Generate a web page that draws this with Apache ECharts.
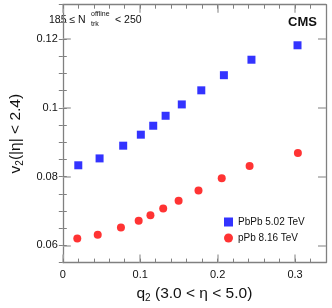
<!DOCTYPE html>
<html><head><meta charset="utf-8">
<script src="https://cdn.jsdelivr.net/npm/echarts@6/dist/echarts.min.js"></script>
<style>html,body{margin:0;padding:0;background:#fff}#c{width:332px;height:308px}</style>
</head><body><div id="c"></div>
<script>
const pbpbQ2 = [0.020, 0.0475, 0.078, 0.1008, 0.1168, 0.1328, 0.1537, 0.1789, 0.2081, 0.2437, 0.3032];
const pbpbV2 = [0.0833, 0.0853, 0.0890, 0.0922, 0.0948, 0.0977, 0.1010, 0.1051, 0.1095, 0.1140, 0.1182];
const ppbQ2 = [0.0187, 0.0451, 0.0751, 0.0980, 0.1132, 0.1297, 0.1496, 0.1753, 0.2053, 0.2413, 0.3037];
const ppbV2 = [0.0620, 0.0631, 0.0652, 0.0672, 0.0688, 0.0707, 0.0730, 0.0760, 0.0795, 0.0831, 0.0869];
const seriesNames = ['PbPb 5.02 TeV', 'pPb 8.16 TeV'];
const xTicks = [0, 0.1, 0.2, 0.3];
const yTicks = [0.06, 0.08, 0.1, 0.12];

const FONT = 'Liberation Sans, Arial, sans-serif';
const axisGray = '#808080';
const chart = echarts.init(document.getElementById('c'));
const pair = (xs, ys) => xs.map((x, i) => [x, ys[i]]);
const X = {min: 0, max: 0.34};
const Y = {min: 0.055, max: 0.13};

function majorAxis(pos, range, ticks, labelOpt, extra) {
  return Object.assign({
    type: 'value', position: pos, min: range.min, max: range.max,
    axisLine: {show: true, onZero: false, lineStyle: {color: axisGray, width: 1.3}},
    axisTick: {show: true, inside: true, length: 8, customValues: ticks, lineStyle: {color: '#aaaaaa', width: 1.5}},
    axisLabel: labelOpt ? Object.assign({customValues: ticks}, labelOpt) : {show: false},
    splitLine: {show: false}
  }, extra || {});
}
function minorAxis(pos, range, step) {
  return {
    type: 'value', position: pos, min: range.min, max: range.max, interval: step,
    axisLine: {show: false},
    axisTick: {show: true, inside: true, length: 4, lineStyle: {color: axisGray, width: 1}},
    axisLabel: {show: false}, splitLine: {show: false}
  };
}
const richName = {n: {fontSize: 15.5, fontFamily: FONT, color: '#111'},
                  s: {fontSize: 10, fontFamily: FONT, color: '#111', verticalAlign: 'bottom', padding: [9, 0, 0, 0]}};

chart.setOption({
  animation: false,
  textStyle: {fontFamily: FONT},
  grid: {left: 42.7, right: 6, top: 4.7, bottom: 44.7},
  xAxis: [
    majorAxis('bottom', X, xTicks, {color: '#111', fontSize: 11, fontFamily: FONT, margin: 7},
      {name: '{n|q}{s|2}{n| (3.0 < η < 5.0)}', nameLocation: 'middle', nameGap: 20,
       nameTextStyle: {rich: richName}}),
    minorAxis('bottom', X, 0.02),
    majorAxis('top', X, xTicks, null),
    minorAxis('top', X, 0.02)
  ],
  yAxis: [
    majorAxis('left', Y, yTicks, {color: '#111', fontSize: 11, fontFamily: FONT, margin: 5},
      {name: '{n|v}{s|2}{n|(|η| < 2.4)}', nameLocation: 'middle', nameGap: 27, nameRotate: 90,
       nameTextStyle: {rich: richName}}),
    minorAxis('left', Y, 0.005),
    majorAxis('right', Y, yTicks, null),
    minorAxis('right', Y, 0.005)
  ],
  legend: {
    orient: 'vertical', left: 219, top: 212, itemWidth: 9, itemHeight: 9, itemGap: 6,
    textStyle: {fontSize: 10, fontFamily: FONT, color: '#111'},
    data: [{name: seriesNames[0], icon: 'rect'}, {name: seriesNames[1], icon: 'circle'}]
  },
  series: [
    {name: seriesNames[0], type: 'scatter', xAxisIndex: 0, yAxisIndex: 0, symbol: 'rect', symbolSize: 8, itemStyle: {color: '#0000ff'}, data: pair(pbpbQ2, pbpbV2)},
    {name: seriesNames[1], type: 'scatter', xAxisIndex: 0, yAxisIndex: 0, symbol: 'circle', symbolSize: 8, itemStyle: {color: '#ff0000'}, data: pair(ppbQ2, ppbV2)}
  ],
  graphic: [
    {type: 'text', left: 49, top: 15, style: {text: '185 ≤ N', fontSize: 10.5, fontFamily: FONT, fill: '#111'}},
    {type: 'text', left: 91, top: 11, style: {text: 'offline', fontSize: 7, fontFamily: FONT, fill: '#111'}},
    {type: 'text', left: 91, top: 21, style: {text: 'trk', fontSize: 7, fontFamily: FONT, fill: '#111'}},
    {type: 'text', left: 115, top: 15, style: {text: '< 250', fontSize: 10.5, fontFamily: FONT, fill: '#111'}},
    {type: 'text', right: 15, top: 16, style: {text: 'CMS', fontSize: 13, fontWeight: 'bold', fontFamily: FONT, fill: '#111'}}
  ]
});
</script></body></html>
